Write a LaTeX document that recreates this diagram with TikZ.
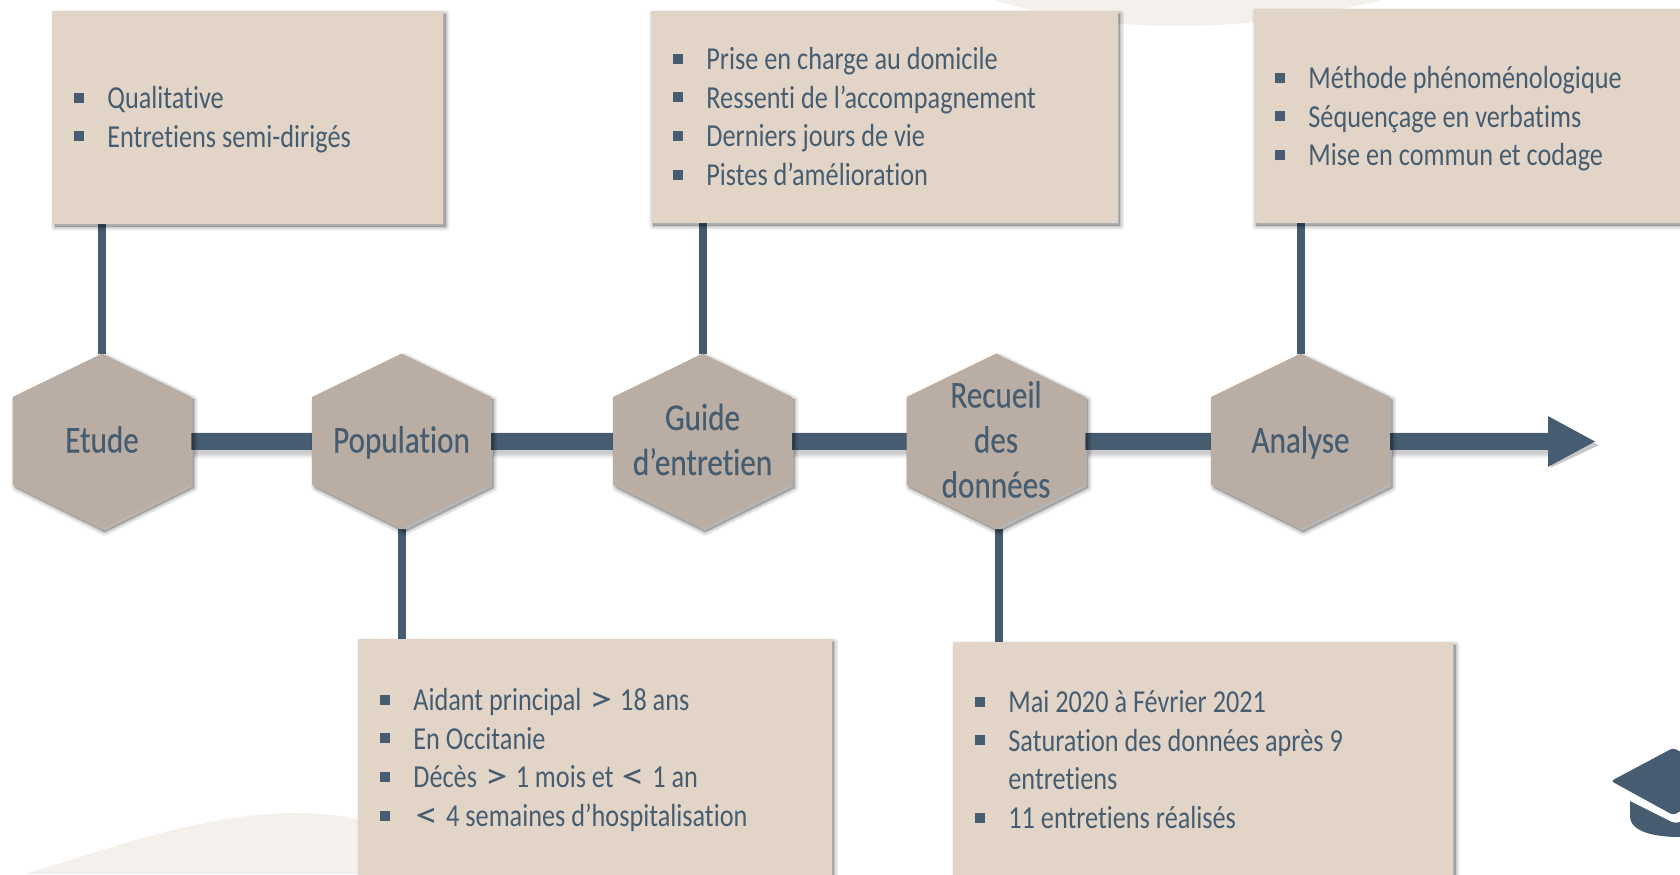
\documentclass[tikz,border=0pt]{standalone}
\usepackage{fontspec}
\setmainfont[FakeStretch=0.82,Ligatures=NoCommon]{Carlito}
\newfontfamily\hexfont[FakeStretch=0.82,Ligatures=NoCommon,FakeBold=0.25]{Carlito}
\usetikzlibrary{arrows.meta,calc}
\definecolor{ink}{HTML}{465D71}
\definecolor{hexfill}{HTML}{BAAEA4}
\definecolor{boxfill}{HTML}{E2D5C8}
\definecolor{blob}{HTML}{F4F1EC}
\pgfdeclarelayer{blobs}
\pgfdeclarelayer{links}
\pgfdeclarelayer{hexes}
\pgfsetlayers{blobs,links,hexes,main}
\newcommand{\softshade}[1]{%
  \foreach \w in {8,6.5,5,3.5,2,1}{%
    \path[draw=black,draw opacity=.04,line width=\w*0.5pt,line join=round,transform canvas={xshift=1.4pt,yshift=-1.4pt}] #1;}%
  \path[fill=black,fill opacity=.22,transform canvas={xshift=1.4pt,yshift=-1.4pt}] #1;}
\newcommand{\hexagone}[4]{% name, x, y, text
  \node[hexnode] (#1) at (#2,#3) {#4};
  \begin{pgfonlayer}{hexes}
  \softshade{(#1.north)--(#1.east |- 0,397)--(#1.east |- 0,485)--(#1.south)--(#1.west |- 0,485)--(#1.west |- 0,397)--cycle}
  \fill[hexfill] (#1.north)--(#1.east |- 0,397)--(#1.east |- 0,485)--(#1.south)--(#1.west |- 0,485)--(#1.west |- 0,397)--cycle;
  \end{pgfonlayer}}
\tikzset{
  x=0.5pt,y=-0.5pt,
  hexnode/.style={minimum width=89pt,minimum height=87.5pt,inner sep=0pt,align=center,text=ink,
    font=\hexfont\fontsize{19}{22.5}\selectfont},
  boxnode/.style={fill=boxfill,inner sep=0pt,rectangle},
  listnode/.style={anchor=north west,inner sep=0pt,align=left,text=ink,
    font=\fontsize{16}{19.3}\selectfont},
  axis/.style={draw=ink,line width=8.5pt},
  stem/.style={draw=ink,line width=4pt},
  tip/.style={-{Triangle[length=24pt,width=23.5pt]}},
}
\newcommand{\bul}{\strut\makebox[16.5pt][l]{\textcolor{ink}{\raisebox{2.8pt}{\rule{5pt}{5pt}}}}}
\newcommand{\cont}{\strut\hspace*{16.5pt}}
\newcommand{\hs}{\rule[-5pt]{0pt}{21pt}}
\newcommand{\gtsym}{\kern1pt\raisebox{-0.5pt}{\scalebox{1.75}[1.15]{>}}\kern1pt}
\newcommand{\ltsym}{\kern1pt\raisebox{-0.5pt}{\scalebox{1.75}[1.15]{<}}\kern1pt}
\begin{document}
\begin{tikzpicture}
\useasboundingbox (0,0) rectangle (1680,874);
\begin{pgfonlayer}{blobs}
  \fill[blob] (25,874) .. controls (120,845) and (210,812) .. (300,813) .. controls (340,813) and (420,825) .. (480,874) -- cycle;
  \fill[blob] (993,0) .. controls (1060,20) and (1120,26) .. (1180,26) .. controls (1250,26) and (1320,15) .. (1383,0) -- cycle;
\end{pgfonlayer}

% boxes
\softshade{(52,11) rectangle (443,224)}
\node[boxnode,minimum width=195.5pt,minimum height=106.5pt] (b1) at (247.5,117.5) {};
\softshade{(650.5,11) rectangle (1117.5,223)}
\node[boxnode,minimum width=233.5pt,minimum height=106pt] (b2) at (884,117) {};
\softshade{(1253.5,9) rectangle (1700,223)}
\node[boxnode,minimum width=223.25pt,minimum height=107pt] (b3) at (1477,116) {};
\softshade{(358,639) rectangle (831.5,890)}
\node[boxnode,minimum width=236.75pt,minimum height=125.5pt] (b4) at (594.75,764.5) {};
\softshade{(953,642) rectangle (1453,890)}
\node[boxnode,minimum width=250pt,minimum height=124pt] (b5) at (1203,766) {};

% lists
\node[listnode] (l1) at (74,81) {\bul Qualitative\\\bul Entretiens semi-dirigés};
\node[listnode] (l2) at (673,42) {\bul Prise en charge au domicile\\\bul Ressenti de l’accompagnement\\\bul Derniers jours de vie\\\bul Pistes d’amélioration};
\node[listnode] (l3) at (1275,61) {\bul Méthode phénoménologique\\\bul Séquençage en verbatims\\\bul Mise en commun et codage};
\node[listnode] (l4) at (380,683) {\bul Aidant principal \gtsym{} 18 ans\\\bul En Occitanie\\\bul Décès \gtsym{} 1 mois et \ltsym{} 1 an\\\bul \ltsym{} 4 semaines d’hospitalisation};
\node[listnode] (l5) at (975,685) {\bul Mai 2020 à Février 2021\\\bul Saturation des données après 9\\\cont entretiens\\\bul 11 entretiens réalisés};

% hexagons
\hexagone{h1}{102}{441.5}{\hs Etude}
\hexagone{h2}{401.5}{441.5}{\hs Population}
\hexagone{h3}{702.5}{441.5}{\hs Guide\\\hs d’entretien}
\hexagone{h4}{996}{441.5}{\hs Recueil\\\hs des\\\hs données}
\hexagone{h5}{1300.5}{441.5}{\hs Analyse}
\coordinate (end) at (1596,441.5);
\coordinate (h4s) at (999,529);

% cap
\fill[ink,rounded corners=1.5pt] (1611,781) -- (1673,748) -- (1740,781) -- (1673,815) -- cycle;
\fill[ink] (1630,801) -- (1672,822) .. controls (1675,823) and (1678,823) .. (1680,822) -- (1680,837)
  .. controls (1655,837) and (1630,832) .. (1630,816) -- cycle;

\begin{pgfonlayer}{links}
  \foreach \a/\b in {h1/h2,h2/h3,h3/h4,h4/h5}{
    \foreach \w in {13,11,9}{
      \draw[axis,draw=black,draw opacity=.07,line width=\w pt,transform canvas={xshift=1.2pt,yshift=-1.6pt}] (\a) -- (\b);}
    \draw[axis] (\a) -- (\b);}
  \foreach \w in {13,11,9}{
    \draw[axis,draw=black,draw opacity=.07,line width=\w pt,transform canvas={xshift=1.2pt,yshift=-1.6pt},shorten >=24pt] (h5) -- (end);}
  \path[fill=black,fill opacity=.22,transform canvas={xshift=1.5pt,yshift=-1.8pt}] (1548,417) -- (1596,441.5) -- (1548,464) -- cycle;
  \draw[axis,tip] (h5) -- (end);
  \draw[stem] (b1.south -| h1) -- (h1.north);
  \draw[stem] (b2.south -| h3) -- (h3.north);
  \draw[stem] (b3.south -| h5) -- (h5.north);
  \draw[stem] (h2.south) -- (h2.south |- b4.north);
  \draw[stem] (h4s) -- (h4s |- b5.north);
\end{pgfonlayer}
\end{tikzpicture}
\end{document}
